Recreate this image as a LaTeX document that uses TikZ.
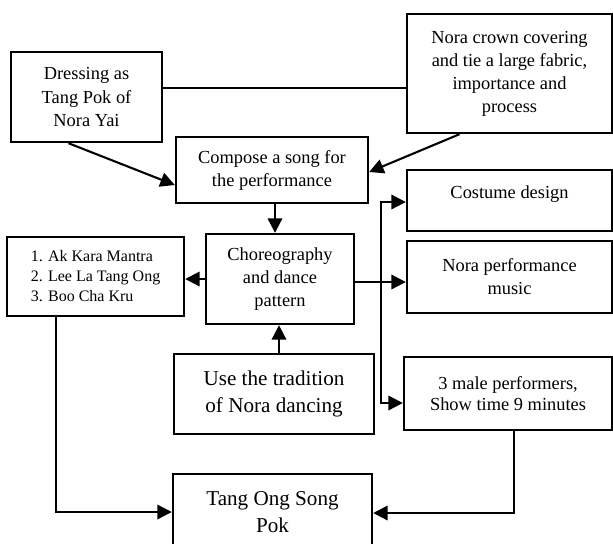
\documentclass[tikz,border=0pt]{standalone}
\usepackage{fontspec}
\setmainfont{Liberation Serif}
\usetikzlibrary{arrows.meta,calc}

\begin{document}
\begin{tikzpicture}[x=0.625pt,y=-0.625pt,
  box/.style={draw,line width=1.5pt,align=center,inner sep=0pt,
    font=\fontsize{11.5}{14.4}\selectfont},
  wh/.style 2 args={minimum width=#1*0.625pt,minimum height=#2*0.625pt},
  link/.style={line width=1.3pt,-{Triangle[length=9pt,width=9pt]}},
  twolink/.style={line width=1.3pt,{Triangle[length=9pt,width=9pt]}-{Triangle[length=9pt,width=9pt]}}]
  \useasboundingbox (0,0) rectangle (613,543);
  \clip (0,0) rectangle (613,543);
  % boxes
  \node[box,wh={151}{90}] (dress) at (86.5,97) {Dressing as\\Tang Pok of\\Nora Yai};
  \node[box,wh={205}{119}] (crown) at (509.5,73.5) {Nora crown covering\\and tie a large fabric,\\importance and\\process};
  \node[box,wh={192}{66}] (compose) at (272,170) {Compose a song for\\the performance};
  \node[box,wh={205}{61}] (costume) at (509.5,200.5) {Costume design\\[-4pt]\mbox{}};
  \node[box,wh={148}{90}] (chore) at (280,279) {Choreography\\and dance\\pattern};
  \node[box,wh={177}{79},align=left,font=\fontsize{10}{12.5}\selectfont] (list) at (95.5,276.5)
    {1. Ak Kara Mantra\\2. Lee La Tang Ong\\3. Boo Cha Kru};
  \node[box,wh={205}{72}] (music) at (509.5,277) {Nora performance\\music};
  \node[box,wh={200}{80},font=\fontsize{13.2}{16.7}\selectfont] (trad) at (274,394) {Use the tradition\\of Nora dancing};
  \node[box,wh={208}{73},font=\fontsize{11.5}{13.5}\selectfont] (male) at (508,393.5) {3 male performers,\\Show time 9 minutes};
  \node[box,wh={199}{76},font=\fontsize{13.2}{16.7}\selectfont] (tang) at (272.5,512) {Tang Ong Song\\Pok};
  % helper points
  \coordinate (tie) at ($(dress.east)+(0,-9)$);
  \coordinate (c1) at ($(compose.south)+(3,0)$);
  \coordinate (c2) at ($(chore.east)+(0,3)$);
  \coordinate (c3) at ($(chore.south)+(-1,0)$);
  \coordinate (c4) at ($(costume.west)+(0,1.5)$);
  \coordinate (c5) at ($(male.west)+(0,9.5)$);
  \coordinate (bus) at (381,300);
  \coordinate (c6) at ($(list.south)+(-39.5,0)$);
  \coordinate (c7) at ($(male.south)+(6,0)$);
  % connectors
  \draw[line width=0.7pt] (tie) -- (tie -| crown.west);
  \draw[link] ($(dress.south)+(-18,0)$) -- ($(compose.west)+(0,15)$);
  \draw[link] ($(crown.south)+(-50,0)$) -- ($(compose.east)+(0,2)$);
  \draw[link] (c1) -- (c1 |- chore.north);
  \draw[link] (chore.west) -- (chore.west -| list.east);
  \draw[link] (c2) -- (c2 -| music.west);
  \draw[link] (c3 |- trad.north) -- (c3);
  \draw[twolink] (c4) -| (bus) |- (c5);
  \draw[link] (c6) |- (tang.west);
  \draw[link] (c7) |- ($(tang.east)+(0,1)$);
\end{tikzpicture}
\end{document}
